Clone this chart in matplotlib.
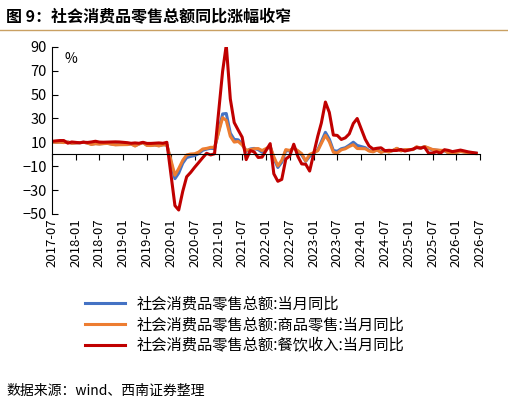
import numpy as np
import pandas as pd
import matplotlib.pyplot as plt
import matplotlib.dates as mdates

plt.rcParams['font.family'] = ['Noto Sans CJK SC', 'DejaVu Sans']

# monthly data, January omitted (combined Jan-Feb releases)
total = [10.4, 10.1, 10.3, 10.0, 10.2, 9.4,
         9.7, 10.1, 9.4, 8.5, 9.0, 8.8, 9.0, 9.2, 8.6, 8.1, 8.2,
         8.2, 8.7, 7.2, 8.6, 9.8, 7.6, 7.5, 7.8, 7.2, 8.0, 8.0,
         -20.5, -15.8, -7.5, -2.8, -1.8, -1.1, 0.5, 3.3, 4.3, 5.0, 4.6,
         33.8, 34.2, 17.7, 12.4, 12.1, 8.5, 2.5, 4.4, 4.9, 3.9, 1.7,
         6.7, -3.5, -11.1, -6.7, 3.1, 2.7, 5.4, 2.5, -0.5, -5.9, -1.8,
         3.5, 10.6, 18.4, 12.7, 3.1, 2.5, 4.6, 5.5, 7.6, 10.1, 7.4,
         5.5, 3.1, 2.3, 3.7, 2.0, 2.7, 2.1, 3.2, 4.8, 3.0, 3.7,
         4.0, 5.9, 5.1, 6.4, 4.8, 3.7, 3.4, 3.0, 2.9, 1.3, 0.9,
         2.5, 2.0, 1.5, 1.0, 0.8]
goods = [10.3, 10.0, 10.1, 9.8, 10.3, 9.2,
         9.7, 10.1, 9.3, 8.2, 8.8, 8.5, 8.9, 9.1, 8.4, 7.9, 8.0,
         8.1, 8.6, 6.9, 8.6, 9.7, 7.4, 7.3, 7.7, 7.0, 7.9, 7.9,
         -17.6, -12.0, -5.1, -0.6, 0.2, 0.4, 1.8, 4.4, 4.9, 5.8, 5.8,
         30.7, 28.4, 15.1, 10.2, 10.7, 7.8, 3.3, 3.9, 4.6, 4.8, 3.1,
         6.5, -2.1, -9.7, -5.0, 3.9, 3.2, 5.1, 3.0, 0.5, -5.6, -0.1,
         2.9, 9.1, 15.9, 10.5, 1.7, 1.0, 3.7, 4.6, 6.5, 8.0, 4.8,
         4.6, 2.7, 2.0, 3.6, 1.5, 2.7, 1.9, 3.3, 5.0, 2.8, 3.9,
         3.9, 6.3, 5.1, 6.5, 5.3, 4.0, 3.6, 3.3, 3.2, 1.0, 0.7,
         2.3, 1.8, 1.2, 0.8, 0.5]
catering = [10.8, 11.2, 11.5, 11.5, 9.3, 10.3,
            9.6, 10.1, 9.9, 10.3, 10.9, 10.2, 10.1, 10.2, 10.3, 10.4, 10.3,
            9.7, 9.2, 9.5, 9.2, 10.0, 9.1, 9.1, 9.3, 9.5, 9.2, 10.0,
            -43.1, -46.8, -31.1, -18.9, -15.2, -11.0, -7.0, -2.9, 0.8, -0.6, 0.4,
            69.6, 91.6, 46.4, 26.6, 20.2, 14.3, -4.5, 3.1, 2.0, -2.7, -2.4,
            8.9, -16.4, -22.7, -21.1, -4.0, -1.5, 8.4, -1.7, -8.1, -8.4, -14.1,
            15.0, 26.3, 43.8, 35.1, 16.1, 15.8, 12.4, 13.8, 17.1, 25.8, 30.0,
            12.5, 6.9, 4.4, 5.0, 5.4, 3.0, 3.3, 3.1, 3.2, 4.0, 2.7,
            4.3, 5.6, 5.2, 5.9, 0.9, 1.1, 2.1, 0.9, 3.8, 3.2, 2.2,
            3.5, 2.8, 2.0, 1.5, 1.0]

months = pd.date_range("2017-07-01", "2026-06-01", freq="MS")
dates = months[months.month != 1]

names = ["社会消费品零售总额:当月同比",
         "社会消费品零售总额:商品零售:当月同比",
         "社会消费品零售总额:餐饮收入:当月同比"]
colors = ["#4472C4", "#ED7D31", "#C00000"]

fig = plt.figure(figsize=(5.08, 4.05), dpi=100)
ax = fig.add_axes([0.102, 0.472, 0.843, 0.412])

lines = []
for vals, name, c in zip([total, goods, catering], names, colors):
    ln, = ax.plot(dates, vals, color=c, lw=2.2, label=name)
    lines.append(ln)

xmin, xmax = pd.Timestamp("2017-07-01"), pd.Timestamp("2026-07-01")
ticks = pd.date_range(xmin, xmax, freq="6MS")
ax.set_xlim(xmin, xmax)
ax.set_ylim(-50, 90)
ax.set_yticks(range(-50, 91, 20))
ax.set_xticks(ticks)
ax.tick_params(axis='x', direction='out', length=4, labelbottom=False)
ax.tick_params(axis='y', direction='in', length=4, labelsize=10.5)
ax.spines['bottom'].set_position(('data', 0))
ax.spines['top'].set_visible(False)
ax.spines['right'].set_visible(False)
ax.text(0.03, 0.97, "%", transform=ax.transAxes, fontsize=10, va='top')

ax2 = ax.twiny()
ax2.set_xlim(xmin, xmax)
ax2.set_xticks(ticks)
ax2.xaxis.set_ticks_position('bottom')
ax2.xaxis.set_label_position('bottom')
ax2.xaxis.set_major_formatter(mdates.DateFormatter("%Y-%m"))
ax2.tick_params(axis='x', length=0, labelsize=9.5, rotation=90, pad=3)
for s in ax2.spines.values():
    s.set_visible(False)

fig.legend(handles=lines, loc='upper left', bbox_to_anchor=(0.155, 0.285),
           frameon=False, fontsize=11, handlelength=2.6,
           labelspacing=0.25, borderaxespad=0)

fig.text(0.012, 0.957, "图 9：社会消费品零售总额同比涨幅收窄",
         fontsize=11.5, fontweight='bold', va='center')
fig.add_artist(plt.Line2D([0, 1], [0.925, 0.925], color="#C9A063", lw=1))
fig.text(0.012, 0.035, "数据来源：wind、西南证券整理", fontsize=10,
         style='italic', va='center')

fig.savefig("out.png", dpi=100)
